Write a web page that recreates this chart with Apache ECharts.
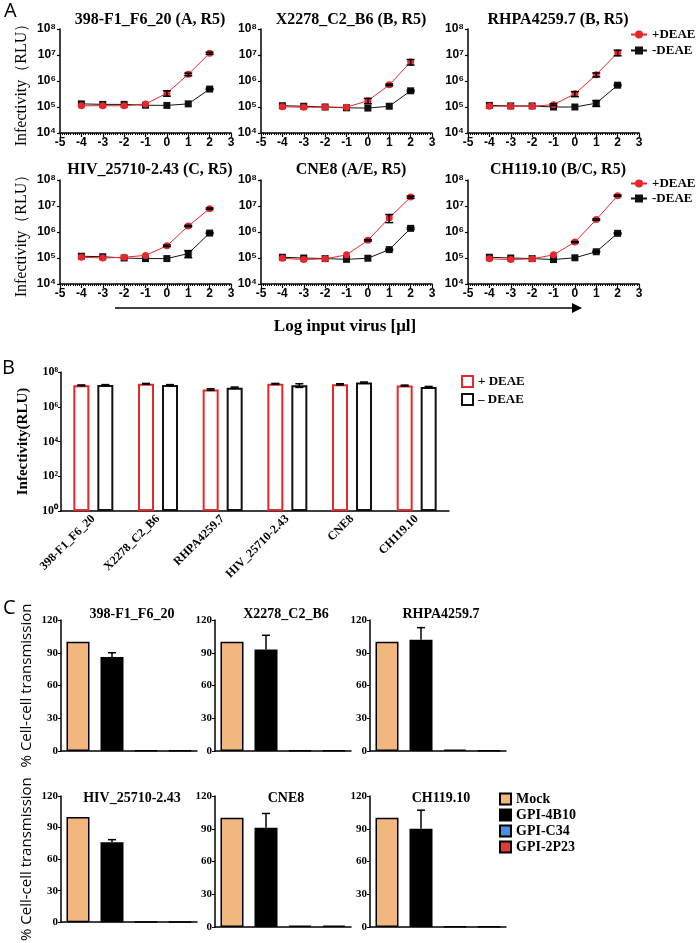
<!DOCTYPE html>
<html>
<head>
<meta charset="utf-8">
<script src="https://cdn.jsdelivr.net/npm/echarts@6/dist/echarts.min.js"></script>
<style>
  html, body { margin: 0; padding: 0; background: #fff; }
  #main { width: 700px; height: 943px; }
</style>
</head>
<body>
<div id="main"></div>
<script>
// ---- panel A : infectivity vs log input virus ----
const doses = [-4, -3, -2, -1, 0, 1, 2]
const aTitles = ['398-F1_F6_20 (A, R5)', 'X2278_C2_B6 (B, R5)', 'RHPA4259.7 (B, R5)',
  'HIV_25710-2.43 (C, R5)', 'CNE8 (A/E, R5)', 'CH119.10 (B/C, R5)']
const aPlus = [
  [1.12e5, 1.12e5, 1.12e5, 1.3e5, 3.4e5, 1.8e6, 1.17e7],
  [1.02e5, 9.8e4, 9.8e4, 9.8e4, 1.74e5, 7.1e5, 5.4e6],
  [1.07e5, 1.07e5, 1.07e5, 1.23e5, 3.2e5, 1.74e6, 1.23e7],
  [1.07e5, 1.0e5, 1.07e5, 1.26e5, 2.95e5, 1.7e6, 7.9e6],
  [9.8e4, 8.7e4, 9.3e4, 1.32e5, 4.8e5, 3.5e6, 2.2e7],
  [9.3e4, 8.7e4, 9.3e4, 1.32e5, 4.1e5, 3.0e6, 2.5e7]
]
const aPlusErr = [
  [0, 0, 0, 0, 0.8e5, 0.2e6, 1.0e6],
  [0, 0, 0, 0, 0.4e5, 0.5e5, 1.3e6],
  [0, 0, 0, 0.1e5, 0.7e5, 0.3e6, 3.0e6],
  [0, 0, 0, 0, 0.2e5, 0.1e6, 0.5e6],
  [0, 0, 0, 0, 0.3e5, 1.2e6, 2.0e6],
  [0, 0, 0, 0, 0.2e5, 0.2e6, 1.5e6]
]
const aMinus = [
  [1.32e5, 1.26e5, 1.26e5, 1.17e5, 1.15e5, 1.32e5, 4.9e5],
  [1.12e5, 1.07e5, 1.0e5, 9.3e4, 9.1e4, 1.07e5, 4.2e5],
  [1.15e5, 1.1e5, 1.1e5, 1.0e5, 1.0e5, 1.4e5, 6.9e5],
  [1.17e5, 1.12e5, 1.0e5, 9.5e4, 9.5e4, 1.48e5, 9.1e5],
  [1.07e5, 1.0e5, 9.5e4, 8.9e4, 9.8e4, 2.1e5, 1.38e6],
  [1.07e5, 1.0e5, 9.5e4, 8.7e4, 1.02e5, 1.74e5, 8.9e5]
]
const aMinusErr = [
  [0, 0, 0, 0, 0, 0, 0.3e5],
  [0, 0, 0, 0, 0, 0, 0.3e5],
  [0, 0, 0, 0, 0, 0.35e5, 0.4e5],
  [0, 0, 0, 0, 0, 0.45e5, 0.5e5],
  [0, 0, 0, 0, 0, 0.1e5, 0.1e6],
  [0, 0, 0, 0, 0, 0.1e5, 0.5e5]
]

// ---- panel B : infectivity per strain ----
const bStrains = ['398-F1_F6_20', 'X2278_C2_B6', 'RHPA4259.7', 'HIV_25710-2.43', 'CNE8', 'CH119.10']
const bPlus = [1.7e7, 2.1e7, 9.8e6, 2.1e7, 1.95e7, 1.66e7]
const bPlusErr = [1e6, 1e6, 1e6, 1e6, 1.5e6, 1e6]
const bMinus = [1.78e7, 1.78e7, 1.26e7, 1.7e7, 2.45e7, 1.38e7]
const bMinusErr = [1e6, 1e6, 1e6, 4e6, 2e6, 1e6]

// ---- panel C : % cell-cell transmission ----
const cTitles = ['398-F1_F6_20', 'X2278_C2_B6', 'RHPA4259.7', 'HIV_25710-2.43', 'CNE8', 'CH119.10']
const cGroups = ['Mock', 'GPI-4B10', 'GPI-C34', 'GPI-2P23']
const cMock = [100, 100, 100, 100, 100, 100]
const c4B10 = [86, 93, 102, 76, 91, 90]
const c4B10Err = [4, 13, 11, 2.5, 13, 17]
const cC34 = [0.3, 0.5, 1.2, 0.3, 1.2, 0.5]
const c2P23 = [0.3, 0.5, 0.3, 0.3, 1.2, 0.3]
const cTicks = [0, 30, 60, 90, 120]

const RED = '#e8262b'
const BLK = '#111'
const cColors = ['#f2b77e', '#000000', '#4a90e2', '#e53935']
const SERIF = 'Liberation Serif'
const SANS = 'Liberation Sans'
const SUP = ['⁰', '¹', '²', '³', '⁴', '⁵', '⁶', '⁷', '⁸']
const pow10 = v => '10' + SUP[Math.round(Math.log10(v))]

const chart = echarts.init(document.getElementById('main'))

const grids = []
const xAxes = []
const yAxes = []
const series = []
const titles = []

// error bar renderer (vertical, both sides or only upward)
function errRender(offset, upOnly) {
  return function (params, api) {
    const x = api.value(0), y = api.value(1), e = api.value(2)
    if (!e) return null
    const hi = api.coord([x, y + e])
    const lo = upOnly ? api.coord([x, y]) : api.coord([x, y - e])
    const cx = hi[0] + offset
    const w = 4
    const st = { stroke: '#000', lineWidth: 1.5 }
    const kids = [
      { type: 'line', shape: { x1: cx, y1: hi[1], x2: cx, y2: lo[1] }, style: st },
      { type: 'line', shape: { x1: cx - w, y1: hi[1], x2: cx + w, y2: hi[1] }, style: st }
    ]
    if (!upOnly) kids.push({ type: 'line', shape: { x1: cx - w, y1: lo[1], x2: cx + w, y2: lo[1] }, style: st })
    return { type: 'group', children: kids }
  }
}

// panel A grids
const aLefts = [60, 261, 468]
aTitles.forEach((t, i) => {
  const row = Math.floor(i / 3), col = i % 3
  const top = row ? 180 : 29
  grids.push({ left: aLefts[col], top: top, width: 171, height: 104 })
  titles.push({
    text: t, left: aLefts[col] + 85, top: row ? 157 : 7, textAlign: 'center',
    textStyle: { fontFamily: SERIF, fontWeight: 'bold', fontSize: 16, color: '#000' }
  })
  xAxes.push({
    gridIndex: i, type: 'value', min: -5, max: 3, interval: 1,
    axisLine: { lineStyle: { color: '#000', width: 1.5 } },
    axisTick: { length: 4, lineStyle: { color: '#000', width: 1.2 } },
    minorTick: { show: true, splitNumber: 10, length: 2, lineStyle: { color: '#000' } },
    splitLine: { show: false },
    axisLabel: { fontFamily: SANS, fontWeight: 'bold', fontSize: 12, color: '#000', margin: 4 }
  })
  yAxes.push({
    gridIndex: i, type: 'log', logBase: 10, min: 1e4, max: 1e8,
    name: col === 0 ? 'Infectivity（RLU）' : '', nameLocation: 'middle', nameGap: 30,
    nameTextStyle: { fontFamily: SERIF, fontSize: 16, color: '#000' },
    axisLine: { show: true, onZero: false, lineStyle: { color: '#000', width: 1.5 } },
    axisTick: { show: true, length: 3, lineStyle: { color: '#000', width: 1.2 } },
    splitLine: { show: false },
    axisLabel: { fontFamily: SANS, fontWeight: 'bold', fontSize: 12, color: '#000', margin: 4, formatter: pow10 }
  })
  series.push({
    name: '-DEAE', type: 'line', xAxisIndex: i, yAxisIndex: i,
    data: doses.map((d, j) => [d, aMinus[i][j]]),
    symbol: 'rect', symbolSize: 7, color: BLK, lineStyle: { width: 1, color: BLK }, z: 2
  })
  series.push({
    name: '+DEAE', type: 'line', xAxisIndex: i, yAxisIndex: i,
    data: doses.map((d, j) => [d, aPlus[i][j]]),
    symbol: 'circle', symbolSize: 7, color: RED, lineStyle: { width: 1, color: RED }, z: 3
  })
  series.push({
    type: 'custom', xAxisIndex: i, yAxisIndex: i, z: 4,
    data: doses.map((d, j) => [d, aMinus[i][j], aMinusErr[i][j]]).concat(
      doses.map((d, j) => [d, aPlus[i][j], aPlusErr[i][j]])),
    renderItem: errRender(0, false)
  })
})

// panel B grid
const B_BAR = 16, B_GAP = 8
grids.push({ left: 61, top: 372, width: 388, height: 139 })
xAxes.push({
  gridIndex: 6, type: 'category', data: bStrains,
  axisLine: { lineStyle: { color: '#000', width: 1.5 } },
  axisTick: { alignWithLabel: true, length: 3, lineStyle: { color: '#000' } },
  axisLabel: { rotate: 45, fontFamily: SERIF, fontWeight: 'bold', fontSize: 12, color: '#000', margin: 6, interval: 0 }
})
yAxes.push({
  gridIndex: 6, type: 'log', logBase: 10, min: 1, max: 1e8, interval: 2,
  name: 'Infectivity(RLU)', nameLocation: 'middle', nameGap: 21,
  nameTextStyle: { fontFamily: SERIF, fontWeight: 'bold', fontSize: 15, color: '#000' },
  axisLine: { show: true, lineStyle: { color: '#000', width: 1.5 } },
  axisTick: { show: true, length: 3, lineStyle: { color: '#000' } },
  splitLine: { show: false },
  axisLabel: { fontFamily: SERIF, fontWeight: 'bold', fontSize: 12, color: '#000', margin: 3, formatter: pow10 }
})
series.push({
  name: '+ DEAE', type: 'bar', xAxisIndex: 6, yAxisIndex: 6, data: bPlus,
  barWidth: B_BAR, barGap: (B_GAP / B_BAR * 100) + '%',
  itemStyle: { color: '#fff', borderColor: RED, borderWidth: 2 }
})
series.push({
  name: '– DEAE', type: 'bar', xAxisIndex: 6, yAxisIndex: 6, data: bMinus,
  barWidth: B_BAR,
  itemStyle: { color: '#fff', borderColor: BLK, borderWidth: 2 }
})
series.push({
  type: 'custom', xAxisIndex: 6, yAxisIndex: 6, z: 4,
  data: bPlus.map((v, j) => [j, v, bPlusErr[j]]),
  renderItem: errRender(-(B_BAR + B_GAP) / 2, false)
})
series.push({
  type: 'custom', xAxisIndex: 6, yAxisIndex: 6, z: 4,
  data: bMinus.map((v, j) => [j, v, bMinusErr[j]]),
  renderItem: errRender((B_BAR + B_GAP) / 2, false)
})

// panel C grids
const C_BAR = 23, C_GAP = 11
const cLefts = [61, 215, 370]
cTitles.forEach((t, p) => {
  const gi = 7 + p
  const row = Math.floor(p / 3), col = p % 3
  const top = row ? 796 : 620
  grids.push({ left: cLefts[col], top: top, width: 136, height: 131 })
  titles.push({
    text: t, left: cLefts[col] + 66, top: row ? 786 : 602, textAlign: 'center',
    textStyle: { fontFamily: SERIF, fontWeight: 'bold', fontSize: 14, color: '#000' }
  })
  xAxes.push({
    gridIndex: gi, type: 'category', data: [''],
    axisLine: { lineStyle: { color: '#000', width: 1.5 } },
    axisTick: { show: false }, axisLabel: { show: false }
  })
  yAxes.push({
    gridIndex: gi, type: 'value', min: cTicks[0], max: cTicks[cTicks.length - 1], interval: 30,
    name: col === 0 ? '% Cell-cell transmission' : '', nameLocation: 'middle', nameGap: 27,
    nameTextStyle: { fontFamily: 'Open Sans', fontSize: 15, color: '#000' },
    axisLine: { show: true, lineStyle: { color: '#000', width: 1.5 } },
    axisTick: { show: true, length: 3, lineStyle: { color: '#000' } },
    splitLine: { show: false },
    axisLabel: { fontFamily: SERIF, fontWeight: 'bold', fontSize: 11, color: '#000', margin: 3 }
  })
  const vals = [cMock[p], c4B10[p], cC34[p], c2P23[p]]
  cGroups.forEach((g, k) => {
    series.push({
      name: g, type: 'bar', xAxisIndex: gi, yAxisIndex: gi, data: [vals[k]],
      barWidth: C_BAR, barGap: (C_GAP / C_BAR * 100) + '%',
      itemStyle: { color: cColors[k], borderColor: '#000', borderWidth: 1.5 }
    })
  })
  series.push({
    type: 'custom', xAxisIndex: gi, yAxisIndex: gi, z: 4,
    data: [[0, c4B10[p], c4B10Err[p]]],
    renderItem: errRender(-(C_BAR + C_GAP) / 2, true)
  })
})

const legendText = { fontFamily: SERIF, fontWeight: 'bold', fontSize: 13, color: '#000' }

chart.setOption({
  animation: false,
  title: titles,
  grid: grids,
  xAxis: xAxes,
  yAxis: yAxes,
  series: series,
  legend: [
    { data: ['+DEAE', '-DEAE'], orient: 'vertical', left: 630, top: 28, padding: 0, itemGap: 3, itemWidth: 16, itemHeight: 10, textStyle: legendText, selectedMode: false },
    { data: ['+DEAE', '-DEAE'], orient: 'vertical', left: 630, top: 177, padding: 0, itemGap: 2, itemWidth: 16, itemHeight: 10, textStyle: legendText, selectedMode: false },
    { data: ['+ DEAE', '– DEAE'], orient: 'vertical', left: 461, top: 375, padding: 0, itemGap: 5, itemWidth: 11, itemHeight: 11, icon: 'rect', textStyle: legendText, selectedMode: false },
    { data: cGroups, orient: 'vertical', left: 499, top: 792, padding: 0, itemGap: 2, itemWidth: 11, itemHeight: 11, icon: 'rect', textStyle: { fontFamily: SERIF, fontWeight: 'bold', fontSize: 14, color: '#000' }, selectedMode: false }
  ],
  graphic: [
    { type: 'text', left: 4, top: 1, style: { text: 'A', font: '20px "Open Sans"', fill: '#000' } },
    { type: 'text', left: 2, top: 358, style: { text: 'B', font: '20px "Open Sans"', fill: '#000' } },
    { type: 'text', left: 3, top: 598, style: { text: 'C', font: '20px "Open Sans"', fill: '#000' } },
    { type: 'line', shape: { x1: 115, y1: 308, x2: 574, y2: 308 }, style: { stroke: '#000', lineWidth: 1.5 } },
    { type: 'polygon', shape: { points: [[572, 303], [582, 308], [572, 313]] }, style: { fill: '#000' } },
    { type: 'text', x: 345, y: 327, style: { text: 'Log input virus [μl]', font: 'bold 17px "Liberation Serif"', fill: '#000', align: 'center', verticalAlign: 'middle' } }
  ]
})
</script>
</body>
</html>
